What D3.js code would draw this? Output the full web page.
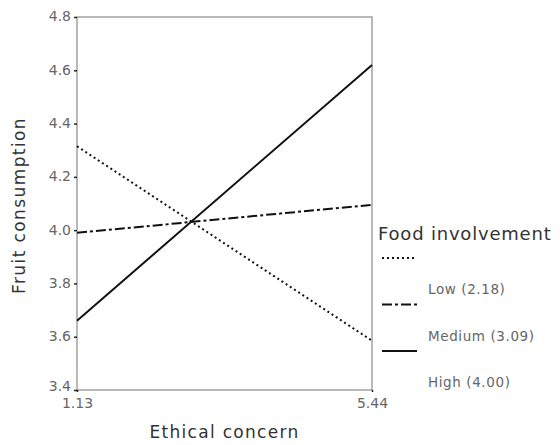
<!DOCTYPE html>
<html>
<head>
<meta charset="utf-8">
<script src="https://cdn.jsdelivr.net/npm/d3@7"></script>
<style>
  body { margin: 0; background: #fff; }
  text { font-family: "DejaVu Sans", "Liberation Sans", sans-serif; }
</style>
</head>
<body>
<div id="chart"></div>
<script>
// x positions (ethical concern) and the three involvement groups
var xValues = [1.13, 5.44];
var groups = ["Low (2.18)", "Medium (3.09)", "High (4.00)"];
var lowVals = [4.315, 3.585];
var medVals = [3.99, 4.095];
var highVals = [3.66, 4.62];
var yTicks = [3.4, 3.6, 3.8, 4.0, 4.2, 4.4, 4.6, 4.8];

var w = 560, h = 445;
var plotL = 77, plotR = 372, plotT = 17, plotB = 390;

var series = [
  { name: groups[0], vals: lowVals, dash: "2,3" },
  { name: groups[1], vals: medVals, dash: "10,3,3,3" },
  { name: groups[2], vals: highVals, dash: null }
];

var svg = d3.select("#chart").append("svg")
  .attr("width", w)
  .attr("height", h);

var x = d3.scaleLinear().domain(d3.extent(xValues)).range([plotL, plotR]);
var y = d3.scaleLinear().domain([3.4, 4.8]).range([plotB, plotT]);

// frame
svg.append("rect")
  .attr("x", plotL).attr("y", plotT)
  .attr("width", plotR - plotL).attr("height", plotB - plotT)
  .style("fill", "none")
  .style("stroke", "#8a8a8a")
  .style("stroke-width", 1.2);

var yAxis = svg.append("g")
  .attr("transform", "translate(" + plotL + ",0)")
  .call(d3.axisLeft(y).tickValues(yTicks).tickSize(3).tickPadding(3).tickFormat(d3.format(".1f")));
yAxis.select(".domain").remove();
yAxis.selectAll("line").style("stroke", "#222").style("stroke-width", 1.5);
yAxis.selectAll("text")
  .style("font-size", "14px").style("fill", "#666")
  .attr("dy", function(d) { return d === 3.4 ? "0.0em" : "0.28em"; });

var xAxis = svg.append("g")
  .attr("transform", "translate(0," + plotB + ")")
  .call(d3.axisBottom(x).tickValues(xValues).tickSize(2).tickPadding(6).tickFormat(d3.format(".2f")));
xAxis.select(".domain").remove();
xAxis.selectAll("line").style("stroke", "#222").style("stroke-width", 1.5);
xAxis.selectAll("text").style("font-size", "14px").style("fill", "#666");

var line = d3.line()
  .x(function(d, i) { return x(xValues[i]); })
  .y(function(d) { return y(d); });

svg.selectAll(".series")
  .data(series)
  .enter().append("path")
  .attr("class", "series")
  .attr("d", function(d) { return line(d.vals); })
  .style("fill", "none")
  .style("stroke", "#111")
  .style("stroke-width", 2)
  .style("stroke-dasharray", function(d) { return d.dash; });

// axis titles
svg.append("text")
  .attr("x", (plotL + plotR) / 2)
  .attr("y", 438)
  .attr("text-anchor", "middle")
  .style("font-size", "17px")
  .style("letter-spacing", "1.3px")
  .style("fill", "#333")
  .text("Ethical concern");

svg.append("text")
  .attr("transform", "translate(25," + ((plotT + plotB) / 2 + 2) + ") rotate(-90)")
  .attr("text-anchor", "middle")
  .style("font-size", "17px")
  .style("letter-spacing", "1.4px")
  .style("fill", "#333")
  .text("Fruit consumption");

// legend
var legend = svg.append("g");
legend.append("text")
  .attr("x", 378).attr("y", 240)
  .style("font-size", "18px")
  .style("letter-spacing", "0.8px")
  .style("fill", "#333")
  .text("Food involvement");

var items = legend.selectAll(".item")
  .data(series)
  .enter().append("g")
  .attr("class", "item")
  .attr("transform", function(d, i) { return "translate(0," + (i * 46.5) + ")"; });

items.append("line")
  .attr("x1", 382).attr("x2", 417)
  .attr("y1", 258).attr("y2", 258)
  .style("stroke", "#111")
  .style("stroke-width", 2.2)
  .style("stroke-dasharray", function(d) { return d.dash; });

items.append("text")
  .attr("x", 428).attr("y", 294)
  .style("font-size", "13.5px")
  .style("letter-spacing", "0.6px")
  .style("fill", "#666")
  .text(function(d) { return d.name; });
</script>
</body>
</html>
